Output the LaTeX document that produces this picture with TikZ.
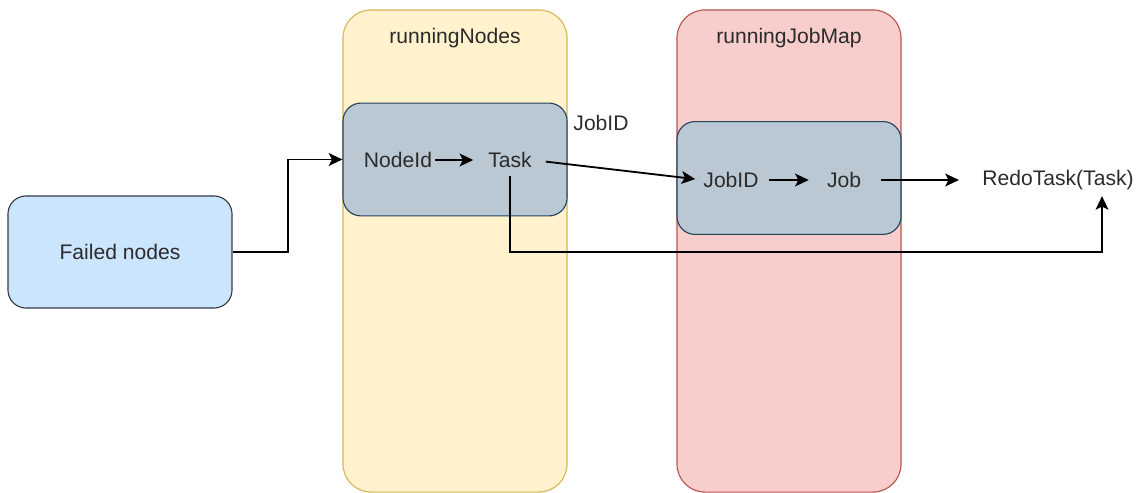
\documentclass[tikz,border=0pt]{standalone}
\usepackage{fontspec}
\setmainfont{Liberation Sans}
\usetikzlibrary{arrows.meta}
\definecolor{yfill}{HTML}{FFF2CC}
\definecolor{ydraw}{HTML}{D6B656}
\definecolor{rfill}{HTML}{F8CECC}
\definecolor{rdraw}{HTML}{B85450}
\definecolor{gfill}{HTML}{BAC8D3}
\definecolor{gdraw}{HTML}{23445D}
\definecolor{bfill}{HTML}{CCE5FF}
\definecolor{bdraw}{HTML}{36393D}
\definecolor{txtgray}{HTML}{2B2B2B}
\begin{document}
\begin{tikzpicture}[x=0.025cm,y=-0.025cm]
\tikzstyle{column}=[rectangle,rounded corners=0.7cm,line width=0.8pt,minimum width=5.6cm,minimum height=12.05cm]
\tikzstyle{mapbox}=[rectangle,rounded corners=0.45cm,draw=gdraw,fill=gfill,line width=0.8pt,minimum width=5.6cm,minimum height=2.82cm]
\tikzstyle{word}=[inner sep=0pt,text=txtgray,font=\fontsize{15}{18}\selectfont]
\tikzstyle{arr}=[draw=black,line width=1.3pt,-{Stealth[length=3.4mm,width=3.2mm,inset=0.8mm]}]
\useasboundingbox (0,0) rectangle (1144,493);
\node [column,draw=ydraw,fill=yfill] (colnodes) at (455,251) {};
\node [column,draw=rdraw,fill=rfill] (coljobs) at (789,251) {};
\node [word] (titlenodes) at (455,38) {runningNodes};
\node [word] (titlejobs) at (789,38) {runningJobMap};
\node [mapbox] (nodemap) at (455,159.5) {};
\node [mapbox] (jobmap) at (789,178) {};
\node [rectangle,rounded corners=0.45cm,draw=bdraw,fill=bfill,line width=0.8pt,minimum width=5.6cm,minimum height=2.8cm] (failed) at (120,252) {};
\node [word] (failedtxt) at (120,252) {Failed nodes};
\node [word] (nodeid) at (398,160) {NodeId};
\node [word] (task) at (510,160) {Task};
\node [word] (jobidlbl) at (601,123) {JobID};
\node [word] (jobid) at (731,180) {JobID};
\node [word] (job) at (844,180) {Job};
\node [word] (redo) at (1058,180) {RedoTask(Task)};
\coordinate (turn) at (1102,252);
\draw [arr] (failed.east) -- ++(55,0) |- (nodemap.west);
\draw [arr,shorten <=2pt,shorten >=0.37cm] (nodeid) -- (task);
\draw [arr,shorten <=0.35cm,shorten >=0.2cm] (task.east) -- (jobid.west);
\draw [arr,shorten <=0.25cm,shorten >=0.45cm] (jobid) -- (job);
\draw [arr,shorten <=0.5cm,shorten >=0.58cm] (job) -- (redo);
\draw [arr,shorten <=0.2cm,shorten >=0.15cm] (task.south) |- (turn) -- (turn |- redo.south);
\end{tikzpicture}
\end{document}
